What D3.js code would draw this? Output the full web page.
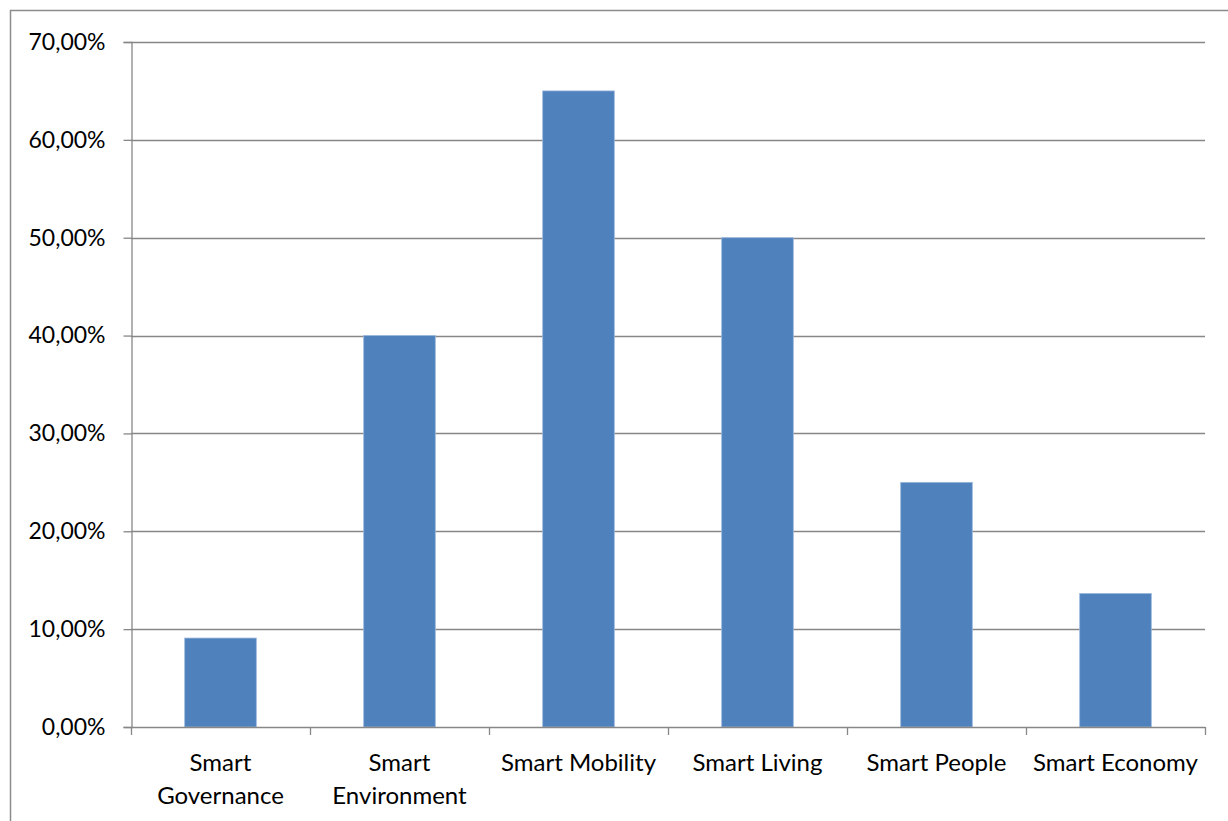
<!DOCTYPE html>
<html>
<head>
<meta charset="utf-8">
<script src="https://cdn.jsdelivr.net/npm/d3@7"></script>
<style>
  html, body { margin: 0; padding: 0; background: #fff; }
  svg { display: block; }
  text { font-family: Lato, "Open Sans", sans-serif; fill: #000; }
</style>
</head>
<body>
<svg id="chart" width="1228" height="821"></svg>
<script>
// Share of projects per smart-city dimension
const categories = ["Smart Governance", "Smart Environment", "Smart Mobility", "Smart Living", "Smart People", "Smart Economy"];
const labelLines = [["Smart", "Governance"], ["Smart", "Environment"], ["Smart Mobility"], ["Smart Living"], ["Smart People"], ["Smart Economy"]];
const values = [0.0909, 0.40, 0.65, 0.50, 0.25, 0.1364];
const yTicks = [0, 0.1, 0.2, 0.3, 0.4, 0.5, 0.6, 0.7];

const svg = d3.select("#chart");
const W = 1228, H = 821;
const plot = { left: 131, right: 1205, top: 42, bottom: 727 };
const gridColor = "#878787";

// outer frame of the chart area
svg.append("rect")
  .attr("x", 10.5).attr("y", 10.5)
  .attr("width", W + 20).attr("height", H + 20)
  .attr("fill", "none").attr("stroke", "#8c8c8c").attr("stroke-width", 1.5);

const x = d3.scaleBand().domain(categories).range([plot.left, plot.right]).paddingInner(0.6).paddingOuter(0.3);
const xBand = d3.scaleBand().domain(categories).range([plot.left, plot.right]);
const y = d3.scaleLinear().domain([0, 0.7]).range([plot.bottom, plot.top]);

const fmt = v => d3.format(".2f")(v * 100).replace(".", ",") + "%";

// horizontal gridlines
svg.append("g").selectAll("line").data(yTicks.slice(1)).join("line")
  .attr("x1", plot.left).attr("x2", plot.right)
  .attr("y1", d => Math.round(y(d)) + 0.5).attr("y2", d => Math.round(y(d)) + 0.5)
  .attr("stroke", gridColor).attr("stroke-width", 1.3);

// y axis
const yAxis = d3.axisLeft(y).tickValues(yTicks).tickFormat(fmt).tickSize(8).tickPadding(18);
const gy = svg.append("g").attr("transform", `translate(${plot.left + 0.5},0)`).call(yAxis);
gy.select(".domain").attr("stroke", gridColor).attr("stroke-width", 1.3);
gy.selectAll(".tick line").attr("stroke", gridColor).attr("stroke-width", 1.3);
gy.selectAll(".tick text").attr("font-size", 23).attr("font-family", "Lato, sans-serif").attr("fill", "#000");

// bars
svg.append("g").selectAll("rect").data(values).join("rect")
  .attr("x", (d, i) => x(categories[i]))
  .attr("y", d => y(d))
  .attr("width", x.bandwidth())
  .attr("height", d => y(0) - y(d))
  .attr("fill", "#4F81BD")
  .attr("stroke", "#9ab7dc").attr("stroke-width", 0.8);

// x axis baseline and category boundary ticks
const gx = svg.append("g");
gx.append("line")
  .attr("x1", plot.left).attr("x2", plot.right)
  .attr("y1", plot.bottom + 0.5).attr("y2", plot.bottom + 0.5)
  .attr("stroke", gridColor).attr("stroke-width", 1.3);
const bounds = categories.map(c => xBand(c)).concat([plot.right]);
gx.selectAll("line.tk").data(bounds).join("line").attr("class", "tk")
  .attr("x1", d => Math.round(d) + 0.5).attr("x2", d => Math.round(d) + 0.5)
  .attr("y1", plot.bottom).attr("y2", plot.bottom + 8)
  .attr("stroke", gridColor).attr("stroke-width", 1.3);

// category labels
const lbl = gx.selectAll("text.cat").data(categories).join("text").attr("class", "cat")
  .attr("text-anchor", "middle")
  .attr("font-size", 24)
  .attr("x", d => xBand(d) + xBand.bandwidth() / 2)
  .attr("y", 771);
lbl.each(function(d, i) {
  d3.select(this).selectAll("tspan").data(labelLines[i]).join("tspan")
    .attr("x", xBand(d) + xBand.bandwidth() / 2)
    .attr("dy", (t, j) => j === 0 ? 0 : 33)
    .text(t => t);
});
</script>
</body>
</html>
